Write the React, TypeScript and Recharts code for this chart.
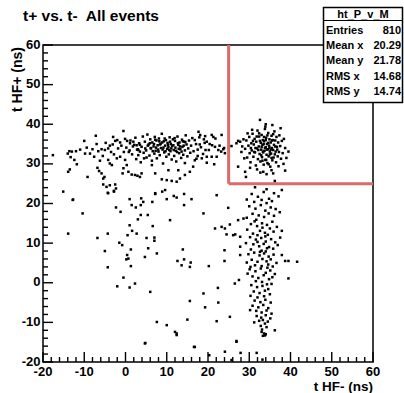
import { ReferenceArea, ReferenceLine, Scatter, ScatterChart, XAxis, YAxis } from "recharts";

// t HF- (x), t HF+ (y) in ns
const leftBand = [
  [-17.6, 32.2], [-13.6, 33.2], [-13.0, 33.1], [-13.3, 31.7], [-12.0, 33.2], [-13.9, 28.0], [-13.5, 28.6],
  [-11.8, 29.9], [-10.0, 35.8], [-9.8, 32.6], [-9.2, 26.7], [-8.0, 33.7], [-7.6, 31.8], [-7.2, 37.1],
  [-6.8, 29.0], [-6.4, 28.2], [-5.8, 27.6], [-5.4, 26.3], [-5.1, 26.7], [-6.6, 33.2], [-5.8, 33.7],
  [-5.0, 33.5], [-4.2, 33.9], [-3.8, 34.6], [-3.1, 34.9], [-2.5, 35.8], [-2.0, 36.0], [-1.3, 35.4],
  [-0.5, 38.3], [-0.1, 36.3], [0.4, 35.8], [1.1, 35.2], [1.9, 35.6], [2.7, 34.7], [3.1, 33.5], [3.5, 33.1],
  [-4.2, 31.0], [-3.8, 30.1], [-3.3, 29.7], [-2.1, 31.4], [-1.3, 31.8], [-0.5, 28.9], [-0.1, 31.0],
  [0.3, 29.7], [0.7, 28.0], [1.5, 27.3], [2.3, 27.2], [2.9, 27.0], [3.5, 26.7], [-0.7, 27.6], [-5.4, 24.8],
  [-4.6, 24.2], [-3.8, 24.6], [-2.5, 24.8], [-2.3, 23.8], [-2.8, 23.0], [-4.2, 22.6], [-11.0, 33.6],
  [-9.4, 34.1], [-8.6, 32.6], [-7.0, 35.0], [-5.5, 32.0], [-4.8, 35.3], [-3.5, 33.0], [-2.8, 32.4],
  [-1.8, 33.9], [-1.0, 34.6], [-0.4, 33.0], [-6.2, 30.8], [-3.0, 36.8], [-12.4, 31.0], [-14.0, 32.6],
];

const midBand = [
  [17.7, 38.1], [18.1, 37.3], [19.3, 37.0], [20.9, 37.3], [21.3, 36.8], [23.3, 37.3], [19.7, 35.6],
  [21.0, 34.7], [21.7, 34.3], [19.4, 33.5], [20.2, 33.5], [22.5, 33.5], [23.2, 33.1], [23.7, 33.7],
  [24.1, 32.7], [22.1, 31.8], [20.9, 31.8], [19.7, 31.8], [18.5, 31.4], [17.5, 32.0], [16.4, 29.3],
  [15.6, 28.0], [14.4, 27.2], [13.2, 26.3], [12.4, 25.5], [11.2, 25.7], [10.0, 25.9], [8.8, 26.1],
  [9.6, 23.4], [7.2, 22.6], [14.4, 30.2], [12.8, 28.4], [10.4, 28.4], [7.2, 27.6], [3.9, 27.6], [6.4, 29.7],
  [0.2, 34.1], [0.8, 33.0], [1.2, 35.9], [1.6, 32.4], [2.1, 34.8], [2.4, 36.6], [2.6, 31.2], [3.0, 33.7],
  [3.3, 35.2], [3.7, 30.4], [3.9, 34.3], [4.2, 36.9], [4.4, 32.8], [4.7, 35.6], [5.0, 33.4], [5.1, 31.6],
  [5.3, 37.4], [5.6, 34.9], [5.8, 32.1], [6.0, 36.2], [6.2, 33.9], [6.4, 30.8], [6.5, 35.4], [6.8, 34.4],
  [7.0, 32.6], [7.1, 36.8], [7.3, 33.3], [7.5, 35.9], [7.6, 31.4], [7.8, 34.7], [8.0, 33.1], [8.1, 36.4],
  [8.3, 32.2], [8.5, 35.1], [8.6, 34.0], [8.8, 37.6], [9.0, 33.6], [9.1, 30.1], [9.3, 35.7], [9.4, 32.9],
  [9.6, 34.6], [9.8, 36.0], [9.9, 31.8], [10.1, 33.8], [10.2, 35.3], [10.4, 34.2], [10.5, 32.4],
  [10.7, 36.7], [10.9, 33.2], [11.0, 35.0], [11.2, 31.1], [11.3, 34.5], [11.5, 36.2], [11.7, 33.5],
  [11.8, 32.0], [12.0, 35.8], [12.1, 34.1], [12.3, 30.6], [12.5, 33.0], [12.6, 36.9], [12.8, 34.8],
  [13.0, 32.7], [13.1, 35.4], [13.3, 33.7], [13.5, 31.5], [13.7, 36.1], [13.8, 34.3], [14.0, 32.3],
  [14.2, 35.6], [14.4, 33.4], [14.6, 37.2], [14.8, 34.9], [15.0, 31.9], [15.2, 33.9], [15.4, 35.9],
  [15.7, 32.8], [15.9, 34.6], [16.2, 36.5], [16.5, 33.2], [16.8, 30.9], [17.1, 35.0], [17.5, 33.6],
  [17.9, 36.7], [18.3, 34.2], [18.8, 32.5], [19.2, 35.3], [6.1, 34.0], [6.9, 35.0], [7.4, 34.1],
  [7.9, 33.6], [8.4, 34.9], [8.9, 35.4], [9.2, 34.1], [9.7, 33.2], [10.3, 34.8], [10.8, 35.6], [11.1, 33.9],
  [11.6, 34.7], [12.2, 33.3], [12.7, 35.2], [13.2, 34.4], [13.6, 33.1], [14.1, 34.6], [14.5, 35.5],
  [6.6, 33.2], [7.2, 36.1], [8.2, 35.7], [9.5, 36.4], [10.6, 33.5], [11.9, 36.5], [12.9, 33.8], [13.9, 35.7],
  [5.4, 34.6], [4.8, 33.9], [3.5, 34.8], [2.8, 33.6], [1.8, 34.4], [1.0, 33.4], [5.9, 35.2], [4.5, 31.4],
  [3.1, 32.2], [16.8, 36.0], [17.2, 31.3], [18.0, 34.9], [19.0, 36.2], [20.4, 35.0], [21.8, 36.4],
  [22.8, 34.6], [23.9, 34.0], [19.7, 30.3], [21.5, 29.9],
];

const cluster = [
  [29.0, 33.8], [29.3, 35.9], [29.5, 31.6], [29.8, 34.6], [30.0, 36.8], [30.1, 32.7], [30.3, 30.4],
  [30.5, 35.2], [30.6, 33.4], [30.8, 37.6], [31.0, 31.8], [31.1, 34.9], [31.3, 36.3], [31.4, 32.9],
  [31.6, 29.6], [31.7, 35.6], [31.9, 33.9], [32.0, 38.4], [32.1, 31.2], [32.3, 34.4], [32.4, 36.9],
  [32.5, 32.5], [32.7, 30.6], [32.8, 35.3], [32.9, 33.6], [33.0, 37.3], [33.1, 31.7], [33.2, 34.8],
  [33.3, 36.0], [33.4, 32.9], [33.5, 29.8], [33.6, 35.7], [33.7, 33.3], [33.8, 38.8], [33.9, 31.0],
  [34.0, 34.2], [34.1, 36.6], [34.2, 32.3], [34.3, 35.0], [34.4, 30.2], [34.5, 33.7], [34.6, 37.8],
  [34.7, 31.9], [34.8, 34.6], [34.9, 36.2], [35.0, 33.1], [35.1, 29.3], [35.2, 35.4], [35.3, 32.6],
  [35.4, 37.1], [35.5, 34.0], [35.6, 30.9], [35.7, 36.0], [35.8, 33.5], [35.9, 31.6], [36.0, 34.8],
  [36.1, 38.2], [36.2, 32.4], [36.3, 35.9], [36.4, 33.1], [36.5, 30.4], [36.6, 36.8], [36.7, 34.3],
  [36.9, 31.9], [37.0, 35.4], [37.2, 33.0], [37.3, 37.2], [37.5, 34.5], [37.7, 31.3], [37.9, 35.8],
  [38.1, 32.7], [38.4, 36.3], [38.7, 34.0], [39.0, 31.5], [32.2, 33.5], [32.6, 35.8], [33.0, 34.3],
  [33.3, 33.1], [33.5, 35.0], [33.8, 34.0], [34.0, 36.0], [34.3, 33.6], [34.6, 35.3], [34.9, 34.1],
  [35.2, 33.6], [35.5, 35.9], [33.6, 36.8], [34.4, 37.2], [32.9, 32.2], [35.0, 32.4], [33.2, 30.8],
  [34.1, 31.0], [35.8, 37.5], [31.5, 34.0], [31.8, 36.9], [32.4, 37.7], [36.3, 34.4], [36.8, 33.6],
  [31.2, 33.0], [30.4, 34.0], [30.9, 35.8], [35.4, 31.5], [34.7, 29.9], [33.9, 39.4], [27.3, 35.8],
  [26.9, 35.2], [27.8, 35.6], [28.3, 34.4], [28.6, 36.2], [28.1, 33.0], [28.8, 31.4], [27.3, 29.3],
  [29.0, 28.0], [29.2, 26.7], [33.4, 28.0], [34.2, 27.4], [35.4, 28.4], [35.8, 27.6], [36.2, 25.7],
  [38.7, 28.3], [39.5, 33.1], [32.6, 41.1], [34.0, 40.0], [25.7, 34.5], [30.2, 29.0], [31.9, 28.6],
  [32.7, 27.8], [37.1, 29.4], [38.3, 30.0], [37.6, 39.0], [35.6, 39.8], [30.7, 38.6], [29.6, 37.7],
];

const tail = [
  [31.4, 24.1], [34.2, 23.6], [37.9, 23.4], [30.6, 22.4], [32.1, 21.7], [33.5, 22.9], [34.8, 21.2],
  [36.0, 22.6], [31.2, 20.4], [33.0, 20.9], [34.2, 20.1], [35.5, 20.6], [29.4, 21.0], [37.1, 21.8],
  [30.0, 19.3], [31.5, 18.7], [32.8, 19.6], [33.9, 18.2], [35.2, 19.0], [36.4, 18.6], [30.8, 17.4],
  [32.3, 17.0], [33.6, 16.6], [34.7, 17.5], [36.0, 16.9], [29.4, 16.4], [31.7, 15.9], [35.6, 15.4],
  [37.4, 17.8], [30.4, 14.8], [31.9, 14.3], [33.1, 15.0], [34.3, 14.6], [35.0, 13.7], [32.6, 13.1],
  [33.8, 12.6], [30.9, 12.4], [35.9, 12.9], [34.5, 12.1], [29.5, 13.4], [32.0, 12.0], [36.7, 14.1],
  [33.2, 13.9], [31.3, 15.5], [30.2, 11.5], [31.6, 10.9], [32.9, 11.3], [34.0, 10.4], [35.3, 11.0],
  [36.3, 10.2], [31.0, 9.7], [32.4, 9.2], [33.5, 9.8], [34.8, 9.0], [35.8, 8.6], [30.4, 8.4], [33.0, 8.1],
  [34.3, 8.7], [36.9, 9.5], [29.2, 10.0], [32.0, 10.3], [33.9, 11.7], [37.5, 11.4], [29.8, 7.2],
  [31.2, 7.6], [32.5, 6.9], [33.6, 7.4], [34.7, 6.6], [35.9, 7.1], [30.6, 5.8], [32.0, 5.3], [33.2, 6.0],
  [34.2, 5.4], [35.2, 5.9], [36.6, 5.0], [31.4, 4.4], [33.0, 4.2], [34.6, 4.6], [29.4, 5.1], [30.3, 4.0],
  [35.7, 4.1], [32.6, 7.8], [34.0, 7.9], [30.1, 3.4], [31.5, 2.9], [32.8, 3.6], [34.0, 2.5], [35.1, 3.1],
  [36.2, 2.2], [30.8, 1.6], [32.2, 1.2], [33.5, 1.9], [34.8, 0.9], [31.6, 0.4], [33.1, 0.2], [35.6, 1.4],
  [29.6, 2.3], [34.4, 3.8], [30.5, -0.6], [31.9, -1.1], [33.2, -0.8], [34.6, -1.6], [35.4, -0.3],
  [31.1, -2.2], [32.5, -2.6], [33.8, -2.0], [35.0, -2.9], [30.3, -3.3], [32.0, -3.7], [33.6, -3.4],
  [34.3, -0.4], [31.3, -4.5], [32.7, -4.9], [33.9, -4.3], [35.2, -5.0], [30.8, -5.8], [32.2, -6.2],
  [33.4, -5.6], [34.6, -6.4], [31.7, -7.1], [33.0, -7.5], [34.2, -7.0], [35.4, -7.8], [30.2, -6.9],
  [31.8, -8.4], [32.9, -8.8], [34.0, -8.2], [33.3, -9.4], [34.5, -9.8], [32.4, -9.6], [33.8, -10.3],
  [32.8, -10.9], [34.2, -11.2], [33.1, -11.8], [35.1, -9.0], [31.2, -10.0], [33.0, -12.4], [33.6, -12.8],
  [34.0, -13.0], [33.3, -13.4], [41.6, 5.3], [39.5, 5.5], [38.7, 5.5], [37.9, 7.0], [39.5, 1.1], [37.9, 13.1],
];

const scattered = [
  [22.1, 22.1], [24.9, 18.9], [28.6, 16.2], [27.3, 15.8], [25.3, 14.7], [24.1, 13.7], [23.3, 14.1],
  [21.7, 13.7], [24.5, 12.2], [26.1, 12.0], [27.8, 11.6], [26.6, 12.2], [24.0, 8.2], [27.8, 9.1],
  [27.8, 7.0], [24.0, 5.5], [26.5, -0.2], [27.5, 0.7], [22.4, -1.3], [22.5, -5.0], [25.3, -8.6],
  [22.1, -9.7], [26.9, -14.7], [4.7, -15.3], [12.4, -12.8], [16.8, -16.2], [20.3, -18.3], [24.1, -17.4],
  [25.7, -19.5], [26.9, -14.9], [27.9, -17.7], [31.8, -17.7], [33.2, -19.4], [33.8, -13.3], [36.2, -12.0],
  [-15.1, 23.0], [-12.8, 20.9], [-10.4, 17.5], [-13.9, 12.4], [-6.8, 11.3], [-5.0, 8.0], [-4.3, 12.4],
  [-4.3, 3.9], [-4.3, 22.7], [-2.8, 23.2], [-2.3, 19.0], [-1.2, 17.9], [-1.5, 10.1], [-0.8, 9.5],
  [-2.0, -0.9], [-0.5, 1.3], [1.0, 21.1], [1.0, 14.5], [0.5, 12.0], [1.6, 13.1], [2.7, 12.4], [1.5, 19.6],
  [2.5, 19.0], [0.4, 7.0], [0.7, 6.1], [0.2, 5.9], [1.3, 8.4], [1.0, -1.2], [2.3, -0.2], [1.3, 4.2],
  [3.0, 16.0], [3.7, 17.1], [3.8, 21.3], [4.3, 20.4], [3.7, 19.6], [5.4, 17.1], [5.1, 11.3], [5.5, 8.7],
  [4.7, 6.5], [6.0, -2.3], [4.8, -15.2], [6.5, 20.4], [7.2, 22.4], [6.6, 14.3], [7.0, 11.4], [7.0, 10.6],
  [7.6, 7.4], [7.6, -9.9], [8.9, 23.0], [10.0, 21.1], [10.8, 15.8], [10.0, -10.7], [11.7, 21.9],
  [12.4, 21.5], [14.2, 22.4], [14.2, 19.6], [16.0, 21.1], [13.9, 8.4], [12.6, 5.5], [14.2, 5.9],
  [13.6, 4.4], [15.8, 5.1], [15.6, 4.0], [18.9, 17.5], [20.2, 4.2], [18.9, -2.7], [19.3, -6.2],
  [15.6, -4.6], [15.0, -9.3], [12.0, -12.4], [12.4, -13.2], [16.6, -16.2], [-12.7, 21.0],
];

const SERIES = [leftBand, midBand, cluster, tail, scattered];

const X_TICKS = [-20, -18, -16, -14, -12, -10, -8, -6, -4, -2, 0, 2, 4, 6, 8, 10, 12, 14, 16, 18, 20,
  22, 24, 26, 28, 30, 32, 34, 36, 38, 40, 42, 44, 46, 48, 50, 52, 54, 56, 58, 60];
const Y_TICKS = X_TICKS;

const CUT = 25;

const STATS = [
  ["Entries", "810"],
  ["Mean x", "20.29"],
  ["Mean y", "21.78"],
  ["RMS x", "14.68"],
  ["RMS y", "14.74"],
];

const FONT = "'Liberation Sans', Arial, sans-serif";

const XTick = (props: any) => {
  const { x, y, payload } = props;
  const v = payload.value;
  const major = v % 10 === 0;
  return (
    <g>
      <line x1={x} y1={y} x2={x} y2={y - (major ? 10 : 5)} stroke="#000" strokeWidth={1.4} />
      {major && (
        <text x={x} y={y + 14} textAnchor="middle" fontFamily={FONT} fontWeight="bold" fontSize={13} fill="#000">
          {v}
        </text>
      )}
    </g>
  );
};

const YTick = (props: any) => {
  const { x, y, payload } = props;
  const v = payload.value;
  const major = v % 10 === 0;
  return (
    <g>
      <line x1={x} y1={y} x2={x + (major ? 10 : 5)} y2={y} stroke="#000" strokeWidth={1.4} />
      {major && (
        <text x={x - 2.5} y={y + 3.5} textAnchor="end" fontFamily={FONT} fontWeight="bold" fontSize={13} fill="#000">
          {v}
        </text>
      )}
    </g>
  );
};

const Dot = (props: any) => (
  <rect x={props.cx - 1.25} y={props.cy - 1.25} width={2.5} height={2.5} fill="#000" />
);

export default function App() {
  return (
    <div style={{ position: "absolute", left: 0, top: 0, width: 404, height: 393, background: "#fff" }}>
      <ScatterChart width={404} height={393} margin={{ top: 45, right: 31, bottom: 0, left: 0 }}>
        <XAxis
          type="number"
          dataKey="x"
          domain={[-20, 60]}
          ticks={X_TICKS}
          interval={0}
          height={31}
          tickSize={0}
          tickMargin={0}
          axisLine={false}
          tickLine={false}
          tick={<XTick />}
        />
        <YAxis
          type="number"
          dataKey="y"
          domain={[-20, 60]}
          ticks={Y_TICKS}
          interval={0}
          width={43}
          tickSize={0}
          tickMargin={0}
          axisLine={false}
          tickLine={false}
          tick={<YTick />}
        />
        {SERIES.map((pts, i) => (
          <Scatter
            key={i}
            data={pts.map(([x, y]) => ({ x, y }))}
            shape={<Dot />}
            isAnimationActive={false}
          />
        ))}
        <ReferenceLine segment={[{ x: CUT, y: CUT }, { x: CUT, y: 60 }]} stroke="#dd6a6a" strokeWidth={3} />
        <ReferenceLine segment={[{ x: CUT, y: CUT }, { x: 60, y: CUT }]} stroke="#dd6a6a" strokeWidth={3} />
        <ReferenceArea x1={-20} x2={60} y1={-20} y2={60} fill="none" stroke="#000" strokeWidth={1.5} />
      </ScatterChart>
      <svg width={404} height={393} style={{ position: "absolute", left: 0, top: 0, pointerEvents: "none" }}>
        <text x={23} y={21} fontFamily={FONT} fontWeight="bold" fontSize={15.5} fill="#000" style={{ whiteSpace: "pre" }}>
          t+ vs. t-  All events
        </text>
        <text x={373} y={391} textAnchor="end" fontFamily={FONT} fontWeight="bold" fontSize={13.5} fill="#000">
          t HF- (ns)
        </text>
        <text transform="translate(22,47) rotate(-90)" textAnchor="end" fontFamily={FONT} fontWeight="bold" fontSize={14} fill="#000">
          t HF+ (ns)
        </text>
        <rect x={323.5} y={7.5} width={79} height={95} fill="#fff" stroke="#000" strokeWidth={1.5} />
        <line x1={323.5} y1={20.5} x2={402.5} y2={20.5} stroke="#000" strokeWidth={1.2} />
        <text x={363} y={17.5} textAnchor="middle" fontFamily={FONT} fontWeight="bold" fontSize={11} fill="#000">
          ht_P_v_M
        </text>
        {STATS.map(([k, v], i) => (
          <g key={k}>
            <text x={326} y={34 + i * 15.2} fontFamily={FONT} fontWeight="bold" fontSize={11} fill="#000">{k}</text>
            <text x={401} y={34 + i * 15.2} textAnchor="end" fontFamily={FONT} fontWeight="bold" fontSize={11} fill="#000">{v}</text>
          </g>
        ))}
      </svg>
    </div>
  );
}
